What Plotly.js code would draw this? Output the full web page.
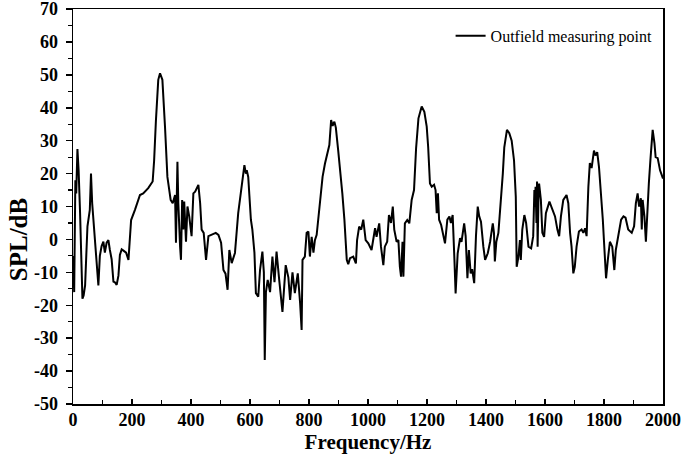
<!DOCTYPE html>
<html>
<head>
<meta charset="utf-8">
<script src="https://cdn.plot.ly/plotly-3.0.1.min.js"></script>
<style>html,body{margin:0;padding:0;background:#fff;}#chart{width:685px;height:461px;}</style>
</head>
<body>
<div id="chart"></div>
<script>
const seriesName = "Outfield measuring point";
const frequency = [0,4,8,11,15,19,24,28,32,36,41,45,49,57,61,65,72,80,86,91,97,103,108,114,120,125,131,137,142,148,154,159,165,171,180,188,197,210,227,238,255,270,275,281,289,295,303,312,320,331,338,346,349,354,357,363,366,370,374,377,383,388,394,402,408,414,420,425,431,436,443,451,459,470,484,493,502,510,517,524,530,538,549,560,572,581,586,589,594,603,608,615,620,628,634,642,647,650,654,660,668,676,683,690,699,710,721,730,736,744,752,762,770,775,778,786,792,798,803,809,815,820,826,832,840,846,854,862,869,875,880,886,891,899,905,913,920,928,933,939,950,959,963,970,977,984,992,1001,1012,1024,1029,1038,1044,1052,1057,1065,1071,1078,1084,1089,1097,1103,1108,1112,1117,1120,1125,1133,1140,1148,1156,1163,1171,1182,1191,1199,1204,1210,1216,1224,1229,1233,1237,1241,1248,1255,1261,1269,1276,1281,1287,1293,1297,1304,1312,1317,1326,1331,1337,1342,1348,1353,1360,1366,1372,1377,1383,1391,1397,1406,1414,1423,1427,1430,1435,1442,1450,1457,1462,1471,1479,1487,1495,1501,1504,1510,1515,1518,1523,1530,1536,1544,1553,1560,1564,1566,1568,1571,1573,1575,1578,1580,1586,1591,1597,1603,1615,1625,1634,1642,1648,1654,1662,1673,1679,1685,1690,1696,1701,1707,1715,1724,1730,1736,1741,1747,1752,1758,1766,1771,1777,1783,1789,1796,1801,1807,1813,1820,1828,1835,1840,1849,1858,1866,1873,1882,1894,1902,1908,1914,1919,1925,1928,1931,1937,1942,1947,1952,1958,1965,1971,1975,1982,1990,1998,2000];
const splDb = [-5,-16,18,14,27.5,21,8,-5,-18,-17,-14,-5,4,9,20,11,3,-8,-14,-5,-2,-0.7,-4,-1,-0.2,-3.2,-6,-12.8,-13,-13.8,-11,-4.7,-3,-3.4,-4,-6.2,5.9,9,13.5,14,15.6,17.6,24,36,48.5,50.5,48.5,34,19,12,11,13.5,-1,23.6,11,-2.2,-6.2,12,3,11.5,-0.7,10,7,1,14,14.5,16,16.6,11,3,2,-6.2,1,1.4,2,1.4,-1,-9.3,-10.4,-15.3,-3.2,-7.2,-4.1,8,16,22.6,20,21,19,6,3,-4,-16.3,-17.4,-9.3,-3.7,-10,-36.6,-16,-12.3,-16,-5.2,-13,-3.7,-12.3,-22,-7.8,-11.5,-18.4,-10,-16.3,-10.3,-19.5,-27.5,-6.2,-5.2,2,2.4,-5.2,0.8,-4,-0.2,1.4,7,13,19,23,25.7,28.7,36.3,34.5,35.8,34,27,22,14,6,-6.2,-7.5,-5.7,-5.2,-7.3,-0.2,3.9,3,6,-0.2,-1.2,-3.2,3.4,0.8,4.9,-2.2,-7.8,-2.2,-0.7,7.4,5,10,3,-0.7,-0.2,-8.3,-11.3,-0.7,-11.3,4.9,5.9,4.9,12,15,27.7,36.8,40.4,38.8,34.3,28,17,16,16.6,15,8,14,6,4.4,1,-1.2,6,7,5,7.4,-6.2,-16.4,-4.2,0.4,-0.7,4.9,1,-11.8,-3.2,-10.3,-9,-13.3,1,10,7,5.4,-2.2,-6.2,-4.2,-0.7,4.9,2,-6.7,-0.7,2,11,20,28,33.3,32.3,30,24,13,-8.3,-5.2,-0.2,-6.2,3,7.4,5,-2.2,-2.7,1,15,10,16,5,17.6,-2.2,13,17,12,2,0.8,8,11.5,9,7,3,1,7,12,13.5,11,2,-2.2,-10.3,-8.3,-2.2,2.4,3,2,3.4,1,16,23.2,21.7,27,25.5,26.5,22,15,6,-2.2,-11.8,-6.2,-0.7,-2.2,-9.3,-3.2,1,6,7,6.6,3,2,4,11,14,10,12.5,3,12,7,-0.7,9,17,25,33.3,29.3,25,24.7,21,19,18.5];
const xTickVals = [0,200,400,600,800,1000,1200,1400,1600,1800,2000];
const yTickVals = [-50,-40,-30,-20,-10,0,10,20,30,40,50,60,70];
const xTitle = "Frequency/Hz";
const yTitle = "SPL/dB";

const serif = "'Liberation Serif', 'Times New Roman', serif";

const trace = {
  x: frequency, y: splDb, type: 'scatter', mode: 'lines', name: seriesName,
  line: {color: '#000000', width: 2}
};

const layout = {
  width: 685, height: 461,
  margin: {l: 73, r: 22, t: 9, b: 57},
  paper_bgcolor: '#ffffff', plot_bgcolor: '#ffffff',
  showlegend: true,
  legend: {x: 0.64, xanchor: 'left', y: 0.975, yanchor: 'top', bgcolor: 'rgba(0,0,0,0)',
           font: {family: serif, size: 16, color: '#000'}},
  xaxis: {
    range: [0, 2000], tickvals: xTickVals, ticktext: xTickVals.map(String),
    showgrid: false, zeroline: false, showline: true, linecolor: '#000', linewidth: 1.5, mirror: true,
    ticks: 'inside', ticklen: 5, tickwidth: 1.5, tickcolor: '#000',
    minor: {dtick: 100, ticks: 'inside', ticklen: 4, tickwidth: 1.2, tickcolor: '#000'},
    ticklabelstandoff: -1,
    tickfont: {family: serif, size: 18, color: '#000', weight: 'bold'},
    title: {text: '<b>' + xTitle + '</b>', font: {family: serif, size: 21, color: '#000'}, standoff: 5}
  },
  yaxis: {
    range: [-50, 70.02], tickvals: yTickVals, ticktext: yTickVals.map(String),
    showgrid: false, zeroline: false, showline: true, linecolor: '#000', linewidth: 1.5, mirror: true,
    ticks: 'outside', ticklen: 6, tickwidth: 1.5, tickcolor: '#000',
    minor: {dtick: 5, ticks: 'outside', ticklen: 4, tickwidth: 1.2, tickcolor: '#000'},
    ticklabelstandoff: 4, ticklabeloverflow: 'allow',
    tickfont: {family: serif, size: 18, color: '#000', weight: 'bold'}
  },
  annotations: [{
    text: '<b>' + yTitle + '</b>', textangle: -90, showarrow: false,
    xref: 'paper', yref: 'paper', x: -0.093, y: 0.415, xanchor: 'center', yanchor: 'middle',
    font: {family: serif, size: 25, color: '#000'}
  }]
};

Plotly.newPlot('chart', [trace], layout, {displayModeBar: false, staticPlot: true});
</script>
</body>
</html>
